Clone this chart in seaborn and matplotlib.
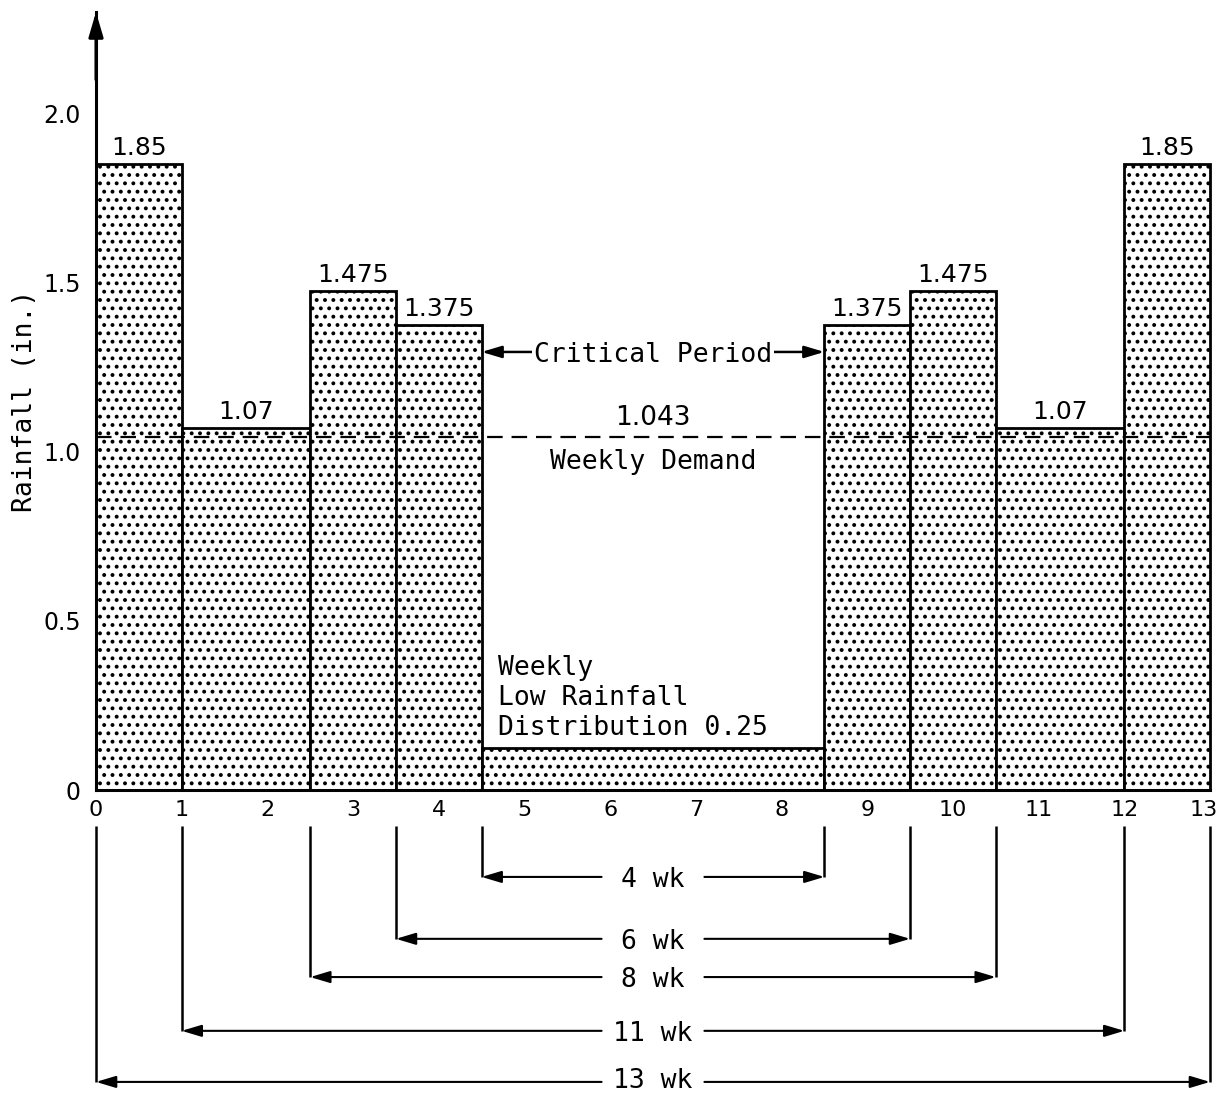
import numpy as np
import pandas as pd
import matplotlib
matplotlib.use("Agg")
import matplotlib.pyplot as plt
import matplotlib.transforms as mtransforms
import seaborn as sns

# ---------------- data ----------------
bin_edges = [0, 1, 2.5, 3.5, 4.5, 8.5, 9.5, 10.5, 12, 13]
rainfall = [1.85, 1.07, 1.475, 1.375, 0.125, 1.375, 1.475, 1.07, 1.85]
value_labels = ["1.85", "1.07", "1.475", "1.375", "", "1.375", "1.475", "1.07", "1.85"]
weekly_demand = 1.043
critical_period = (4.5, 8.5)
span_starts = [4.5, 3.5, 2.5, 1, 0]
span_ends = [8.5, 9.5, 10.5, 12, 13]
span_labels = ["4 wk", "6 wk", "8 wk", "11 wk", "13 wk"]
x_ticks = list(range(14))
y_ticks = [0, 0.5, 1.0, 1.5, 2.0]
y_tick_labels = ["0", "0.5", "1.0", "1.5", "2.0"]

# ---------------- style ----------------
sns.set_theme(style="white")
plt.rcParams["font.family"] = ["DejaVu Sans"]
plt.rcParams["text.color"] = "black"
plt.rcParams["axes.labelcolor"] = "black"
plt.rcParams["hatch.color"] = "black"
plt.rcParams["hatch.linewidth"] = 1.6
MONO = "DejaVu Sans Mono"

W, H = 1221, 1093
fig = plt.figure(figsize=(W / 100, H / 100), dpi=100)
ax = fig.add_axes([96 / W, 303 / H, 1114 / W, 778 / H])

centers = [(a + b) / 2 for a, b in zip(bin_edges[:-1], bin_edges[1:])]
df = pd.DataFrame({"week": centers, "rain": rainfall})
sns.histplot(data=df, x="week", weights="rain", bins=bin_edges, stat="count",
             color="white", edgecolor="black", linewidth=2.0, alpha=1, ax=ax)
for p in ax.patches:
    p.set_hatch("..")
    p.set_clip_on(False)
    p.set_facecolor("white")

ax.set_xlim(0, 13)
ax.set_ylim(0, 2.3)
ax.set_xlabel("")
ax.set_ylabel("Rainfall (in.)", fontfamily=MONO, fontsize=19, color="black")
ax.yaxis.set_label_coords(-0.052, 0.5)

ax.set_xticks(x_ticks)
ax.set_xticklabels([str(t) for t in x_ticks])
ax.set_yticks(y_ticks)
ax.set_yticklabels(y_tick_labels)
ax.tick_params(axis="y", direction="in", length=18, width=1.5, pad=11, labelsize=17, colors="black")
ax.tick_params(axis="x", direction="in", length=9, width=1.5, pad=7, labelsize=16, colors="black")
# keep the last x tick label inside the figure
last = ax.get_xticklabels()[-1]
last.set_transform(last.get_transform() +
                   mtransforms.ScaledTranslation(-6 / 100, 0, fig.dpi_scale_trans))

for s in ["top", "right"]:
    ax.spines[s].set_visible(False)
for s in ["left", "bottom"]:
    ax.spines[s].set_color("black")
    ax.spines[s].set_linewidth(2.2)

# arrow on top of y-axis
ax.annotate("", xy=(0, 2.3), xytext=(0, 2.1),
            arrowprops=dict(arrowstyle="-|>,head_length=0.75,head_width=0.22", lw=2.2,
                            color="black", mutation_scale=20, shrinkA=0, shrinkB=0),
            annotation_clip=False)

# value labels
for c, h, lab in zip(centers, rainfall, value_labels):
    if lab:
        ax.annotate(lab, xy=(c, h), xytext=(0, 3), textcoords="offset points",
                    ha="center", va="bottom", fontsize=18, color="black")

# weekly demand line
ax.axhline(weekly_demand, color="black", lw=1.6, ls=(0, (7, 4)), zorder=3)
mid = (critical_period[0] + critical_period[1]) / 2
ax.text(mid, weekly_demand + 0.018, "1.043", ha="center", va="bottom", fontsize=19)
ax.text(mid, weekly_demand - 0.035, "Weekly Demand", ha="center", va="top",
        fontsize=19, fontfamily=MONO)

# critical period
cp_y = 1.295
arrow_kw = dict(color="black", mutation_scale=20, shrinkA=0, shrinkB=0)
ax.annotate("", xy=(critical_period[0], cp_y), xytext=(critical_period[1], cp_y),
            arrowprops=dict(arrowstyle="<|-|>,head_length=0.6,head_width=0.18", lw=1.8,
                            **arrow_kw))
ax.text(mid, cp_y, "Critical Period", ha="center", va="center_baseline", fontsize=19,
        fontfamily=MONO, bbox=dict(facecolor="white", edgecolor="none", pad=1.5), zorder=5)

# low rainfall text
ax.text(4.69, 0.272, "Weekly\nLow Rainfall\nDistribution 0.25", ha="left", va="center",
        fontsize=19, fontfamily=MONO, linespacing=1.2)

# dimension lines below the axis
levels = [-0.257, -0.440, -0.553, -0.712, -0.863]
text_levels = [-0.257, -0.440, -0.553, -0.712, -0.850]
ext_top = -0.106
gap = 0.6
for s, e, lab, lvl, tl in zip(span_starts, span_ends, span_labels, levels, text_levels):
    for xx in (s, e):
        ax.plot([xx, xx], [ext_top, lvl], color="black", lw=1.8, clip_on=False,
                solid_capstyle="butt")
    for tip, tail in ((s, mid - gap), (e, mid + gap)):
        ax.annotate("", xy=(tip, lvl), xytext=(tail, lvl),
                    arrowprops=dict(arrowstyle="-|>,head_length=0.6,head_width=0.18",
                                    lw=1.5, **arrow_kw),
                    annotation_clip=False)
    ax.text(mid, tl, lab, ha="center", va="center_baseline", fontsize=19,
            fontfamily=MONO, clip_on=False)

fig.savefig("out.png", dpi=100)
